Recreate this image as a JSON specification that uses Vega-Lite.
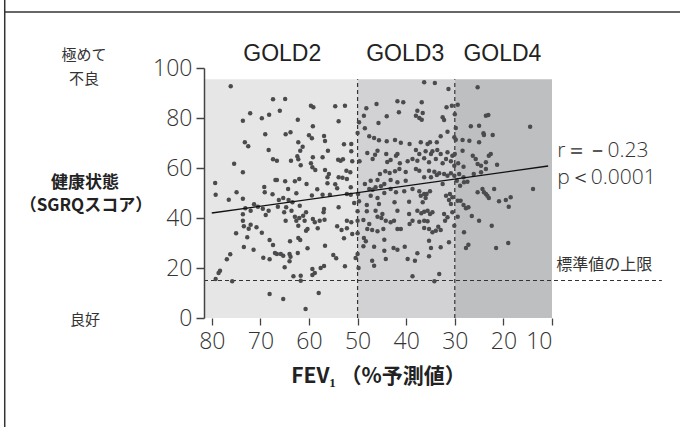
{
  "$schema": "https://vega.github.io/schema/vega-lite/v6.json",
  "width": 348,
  "height": 250,
  "autosize": {"type": "none"},
  "padding": {"left": 204, "top": 68, "right": 128, "bottom": 109},
  "background": "white",
  "config": {"view": {"stroke": null}},
  "datasets": {
    "regions": [
      {"gold": "GOLD2", "from": 81.6, "to": 50},
      {"gold": "GOLD3", "from": 50, "to": 30},
      {"gold": "GOLD4", "from": 30, "to": 10}
    ],
    "goldLabels": [
      {"gold": "GOLD2", "fev": 65.5},
      {"gold": "GOLD3", "fev": 40.2},
      {"gold": "GOLD4", "fev": 20.2}
    ],
    "cutoffs": [{"fev": 50}, {"fev": 30}],
    "normalLine": [{"fev": 81.6, "fev2": -12.6, "sgrq": 15}],
    "frameV": [{"fev": 122.6, "sgrq": 127.2, "sgrq2": -43.6}],
    "frameH": [{"fev": 122.6, "fev2": -16.5, "sgrq": 122.4}],
    "fit": [{"fev": 80, "sgrq": 42}, {"fev": 10.8, "sgrq": 60.8}],
    "leftNormal": [
      {"label": "極めて", "fev": 106.3, "sgrq": 105.2},
      {"label": "不良", "fev": 106.3, "sgrq": 95.6},
      {"label": "良好", "fev": 106.1, "sgrq": -0.8}
    ],
    "leftBold": [
      {"label": "健康状態", "fev": 106.1, "sgrq": 54},
      {"label": "（SGRQスコア）", "fev": 105.9, "sgrq": 44.8}
    ],
    "stats": [
      {"label": "r＝－0.23", "fev": 8.9, "sgrq": 66.8},
      {"label": "p＜0.0001", "fev": 8.9, "sgrq": 56}
    ],
    "normal": [{"label": "標準値の上限", "fev": 9.1, "sgrq": 21.2}],
    "points": [
      {"fev":76.1,"sgrq":92.7},{"fev":67.4,"sgrq":87.5},{"fev":72.1,"sgrq":81.9},{"fev":73.6,"sgrq":78.9},{"fev":69.7,"sgrq":79.9},{"fev":68.2,"sgrq":81.3},{"fev":69.0,"sgrq":73.5},{"fev":73.2,"sgrq":70.3},{"fev":72.5,"sgrq":68.7},{"fev":68.3,"sgrq":67.2},{"fev":67.4,"sgrq":63.5},{"fev":75.4,"sgrq":61.7},{"fev":73.6,"sgrq":58.3},{"fev":66.9,"sgrq":55.2},{"fev":79.3,"sgrq":54.0},{"fev":69.2,"sgrq":52.4},{"fev":69.1,"sgrq":50.3},{"fev":74.9,"sgrq":50.3},{"fev":79.2,"sgrq":49.3},{"fev":67.5,"sgrq":49.5},{"fev":76.5,"sgrq":47.3},{"fev":73.6,"sgrq":47.7},{"fev":71.3,"sgrq":45.5},{"fev":70.5,"sgrq":44.5},{"fev":73.1,"sgrq":43.9},{"fev":72.0,"sgrq":42.9},{"fev":69.5,"sgrq":43.7},{"fev":68.3,"sgrq":42.9},{"fev":73.6,"sgrq":41.5},{"fev":68.9,"sgrq":41.2},{"fev":73.6,"sgrq":38.9},{"fev":72.0,"sgrq":37.3},{"fev":73.4,"sgrq":36.7},{"fev":72.4,"sgrq":35.7},{"fev":70.8,"sgrq":36.3},{"fev":69.7,"sgrq":34.1},{"fev":75.0,"sgrq":33.9},{"fev":72.7,"sgrq":32.3},{"fev":68.1,"sgrq":31.2},{"fev":67.4,"sgrq":29.2},{"fev":73.4,"sgrq":28.4},{"fev":71.4,"sgrq":27.3},{"fev":67.0,"sgrq":26.0},{"fev":76.2,"sgrq":25.5},{"fev":76.9,"sgrq":23.5},{"fev":69.4,"sgrq":24.1},{"fev":68.1,"sgrq":23.5},{"fev":78.3,"sgrq":18.9},{"fev":78.6,"sgrq":18.0},{"fev":79.2,"sgrq":15.6},{"fev":75.8,"sgrq":14.7},{"fev":68.1,"sgrq":9.6},
      {"fev":64.9,"sgrq":87.6},{"fev":66.0,"sgrq":82.9},{"fev":59.6,"sgrq":84.9},{"fev":59.1,"sgrq":84.3},{"fev":54.6,"sgrq":84.7},{"fev":52.6,"sgrq":84.9},{"fev":62.3,"sgrq":79.3},{"fev":53.9,"sgrq":78.7},{"fev":59.2,"sgrq":76.7},{"fev":64.8,"sgrq":73.5},{"fev":63.8,"sgrq":74.3},{"fev":60.0,"sgrq":73.1},{"fev":59.4,"sgrq":71.9},{"fev":56.9,"sgrq":72.8},{"fev":56.7,"sgrq":70.8},{"fev":62.2,"sgrq":70.3},{"fev":52.8,"sgrq":69.5},{"fev":61.3,"sgrq":68.5},{"fev":61.8,"sgrq":66.9},{"fev":56.1,"sgrq":66.9},{"fev":66.6,"sgrq":62.9},{"fev":63.7,"sgrq":62.9},{"fev":62.4,"sgrq":64.7},{"fev":62.2,"sgrq":63.5},{"fev":59.2,"sgrq":64.3},{"fev":57.2,"sgrq":64.3},{"fev":54.0,"sgrq":63.3},{"fev":53.5,"sgrq":62.9},{"fev":53.0,"sgrq":63.5},{"fev":59.6,"sgrq":61.9},{"fev":59.3,"sgrq":60.3},{"fev":61.7,"sgrq":61.1},{"fev":58.7,"sgrq":59.2},{"fev":56.7,"sgrq":59.2},{"fev":55.9,"sgrq":57.6},{"fev":56.2,"sgrq":56.3},{"fev":53.9,"sgrq":56.3},{"fev":53.1,"sgrq":56.1},{"fev":66.6,"sgrq":55.2},{"fev":64.9,"sgrq":54.7},{"fev":62.9,"sgrq":54.7},{"fev":62.0,"sgrq":55.6},{"fev":60.5,"sgrq":53.6},{"fev":56.2,"sgrq":53.9},{"fev":54.6,"sgrq":53.5},{"fev":64.3,"sgrq":51.6},{"fev":58.3,"sgrq":51.5},{"fev":54.2,"sgrq":51.9},{"fev":62.6,"sgrq":49.9},{"fev":59.4,"sgrq":49.0},{"fev":57.2,"sgrq":49.3},{"fev":55.7,"sgrq":49.3},{"fev":66.2,"sgrq":47.2},{"fev":65.3,"sgrq":48.0},{"fev":64.2,"sgrq":47.2},{"fev":63.4,"sgrq":46.3},{"fev":61.9,"sgrq":44.9},{"fev":66.4,"sgrq":44.5},{"fev":64.7,"sgrq":44.3},{"fev":63.6,"sgrq":42.9},{"fev":65.1,"sgrq":42.3},{"fev":62.9,"sgrq":40.5},{"fev":62.0,"sgrq":40.0},{"fev":61.2,"sgrq":40.9},{"fev":60.6,"sgrq":42.3},{"fev":56.9,"sgrq":43.6},{"fev":57.0,"sgrq":42.3},{"fev":53.9,"sgrq":44.3},{"fev":64.8,"sgrq":38.9},{"fev":62.6,"sgrq":38.9},{"fev":62.2,"sgrq":36.9},{"fev":60.9,"sgrq":38.9},{"fev":59.2,"sgrq":39.6},{"fev":58.8,"sgrq":38.3},{"fev":58.2,"sgrq":35.9},{"fev":57.8,"sgrq":38.9},{"fev":56.8,"sgrq":39.3},{"fev":60.3,"sgrq":35.6},{"fev":60.6,"sgrq":34.9},{"fev":54.2,"sgrq":36.7},{"fev":53.3,"sgrq":35.2},{"fev":52.8,"sgrq":31.9},{"fev":62.2,"sgrq":32.0},{"fev":61.8,"sgrq":31.2},{"fev":63.9,"sgrq":30.7},{"fev":60.3,"sgrq":27.9},{"fev":56.7,"sgrq":28.9},{"fev":66.6,"sgrq":25.6},{"fev":65.8,"sgrq":25.6},{"fev":65.3,"sgrq":24.9},{"fev":64.0,"sgrq":25.6},{"fev":63.8,"sgrq":24.5},{"fev":62.3,"sgrq":26.0},{"fev":64.0,"sgrq":22.7},{"fev":65.0,"sgrq":20.3},{"fev":55.0,"sgrq":25.2},{"fev":54.4,"sgrq":23.9},{"fev":52.6,"sgrq":20.7},{"fev":57.6,"sgrq":20.0},{"fev":56.9,"sgrq":20.8},{"fev":59.3,"sgrq":19.6},{"fev":59.3,"sgrq":17.2},{"fev":58.8,"sgrq":18.0},{"fev":63.2,"sgrq":16.7},{"fev":61.7,"sgrq":16.9},{"fev":61.7,"sgrq":14.9},{"fev":65.3,"sgrq":7.6},{"fev":58.0,"sgrq":10.0},{"fev":60.7,"sgrq":3.6},
      {"fev":46.1,"sgrq":85.6},{"fev":41.8,"sgrq":86.7},{"fev":40.6,"sgrq":86.3},{"fev":48.2,"sgrq":83.9},{"fev":41.5,"sgrq":82.3},{"fev":48.7,"sgrq":80.9},{"fev":44.0,"sgrq":80.7},{"fev":49.7,"sgrq":78.3},{"fev":45.7,"sgrq":78.0},{"fev":48.5,"sgrq":75.9},{"fev":47.6,"sgrq":72.7},{"fev":50.0,"sgrq":74.0},{"fev":46.6,"sgrq":72.0},{"fev":45.6,"sgrq":71.1},{"fev":44.0,"sgrq":70.7},{"fev":42.3,"sgrq":71.2},{"fev":41.1,"sgrq":70.1},{"fev":39.3,"sgrq":69.6},{"fev":51.3,"sgrq":69.6},{"fev":48.0,"sgrq":66.0},{"fev":46.4,"sgrq":65.3},{"fev":45.9,"sgrq":66.9},{"fev":44.1,"sgrq":65.6},{"fev":42.1,"sgrq":64.9},{"fev":41.8,"sgrq":65.6},{"fev":51.3,"sgrq":66.7},{"fev":49.6,"sgrq":62.7},{"fev":51.1,"sgrq":62.7},{"fev":46.9,"sgrq":63.6},{"fev":43.9,"sgrq":62.4},{"fev":43.2,"sgrq":63.2},{"fev":41.3,"sgrq":61.9},{"fev":38.7,"sgrq":63.6},{"fev":39.7,"sgrq":62.7},{"fev":52.3,"sgrq":58.9},{"fev":51.5,"sgrq":58.3},{"fev":44.3,"sgrq":58.7},{"fev":43.4,"sgrq":58.0},{"fev":42.3,"sgrq":58.7},{"fev":41.4,"sgrq":59.6},{"fev":40.1,"sgrq":58.4},{"fev":45.4,"sgrq":57.6},{"fev":45.9,"sgrq":55.2},{"fev":47.3,"sgrq":54.9},{"fev":48.5,"sgrq":53.6},{"fev":52.2,"sgrq":55.6},{"fev":43.2,"sgrq":55.2},{"fev":41.8,"sgrq":54.3},{"fev":40.1,"sgrq":54.9},{"fev":46.3,"sgrq":52.3},{"fev":45.2,"sgrq":52.7},{"fev":44.5,"sgrq":53.6},{"fev":51.4,"sgrq":52.3},{"fev":47.6,"sgrq":51.6},{"fev":46.9,"sgrq":51.3},{"fev":43.2,"sgrq":51.6},{"fev":42.1,"sgrq":50.3},{"fev":40.4,"sgrq":50.7},{"fev":38.7,"sgrq":51.6},{"fev":52.2,"sgrq":49.6},{"fev":51.4,"sgrq":49.3},{"fev":49.9,"sgrq":49.6},{"fev":47.3,"sgrq":48.9},{"fev":45.9,"sgrq":48.0},{"fev":44.5,"sgrq":50.0},{"fev":50.7,"sgrq":46.0},{"fev":49.7,"sgrq":46.7},{"fev":48.1,"sgrq":45.2},{"fev":45.6,"sgrq":45.6},{"fev":42.4,"sgrq":46.3},{"fev":39.4,"sgrq":46.5},{"fev":50.0,"sgrq":42.7},{"fev":48.1,"sgrq":42.7},{"fev":46.3,"sgrq":42.9},{"fev":44.9,"sgrq":41.6},{"fev":41.8,"sgrq":42.9},{"fev":52.2,"sgrq":38.9},{"fev":51.3,"sgrq":38.3},{"fev":50.0,"sgrq":38.9},{"fev":48.8,"sgrq":39.2},{"fev":47.6,"sgrq":37.6},{"fev":45.9,"sgrq":40.5},{"fev":45.1,"sgrq":40.0},{"fev":44.2,"sgrq":38.9},{"fev":43.2,"sgrq":38.3},{"fev":42.5,"sgrq":38.9},{"fev":41.8,"sgrq":35.6},{"fev":41.1,"sgrq":35.6},{"fev":39.4,"sgrq":41.6},{"fev":39.3,"sgrq":37.6},{"fev":38.7,"sgrq":38.9},{"fev":52.2,"sgrq":35.9},{"fev":51.1,"sgrq":33.6},{"fev":50.0,"sgrq":33.9},{"fev":48.0,"sgrq":35.6},{"fev":47.0,"sgrq":35.2},{"fev":45.9,"sgrq":34.7},{"fev":44.7,"sgrq":35.6},{"fev":48.7,"sgrq":32.0},{"fev":48.3,"sgrq":30.7},{"fev":48.8,"sgrq":28.7},{"fev":44.5,"sgrq":31.3},{"fev":46.6,"sgrq":28.5},{"fev":42.6,"sgrq":28.0},{"fev":41.8,"sgrq":27.3},{"fev":40.3,"sgrq":28.5},{"fev":44.5,"sgrq":26.9},{"fev":50.0,"sgrq":25.6},{"fev":50.4,"sgrq":24.0},{"fev":47.0,"sgrq":22.9},{"fev":46.6,"sgrq":20.9},{"fev":44.2,"sgrq":23.6},{"fev":39.7,"sgrq":23.6},{"fev":49.8,"sgrq":20.0},{"fev":38.7,"sgrq":16.7},
      {"fev":36.3,"sgrq":94.3},{"fev":34.1,"sgrq":94.0},{"fev":31.3,"sgrq":91.6},{"fev":25.3,"sgrq":92.3},{"fev":36.8,"sgrq":86.3},{"fev":31.7,"sgrq":84.3},{"fev":30.6,"sgrq":84.9},{"fev":29.4,"sgrq":85.3},{"fev":37.7,"sgrq":82.9},{"fev":36.6,"sgrq":82.0},{"fev":38.0,"sgrq":80.9},{"fev":37.3,"sgrq":80.0},{"fev":36.8,"sgrq":79.3},{"fev":32.5,"sgrq":80.3},{"fev":32.2,"sgrq":79.2},{"fev":23.6,"sgrq":80.9},{"fev":26.7,"sgrq":76.7},{"fev":25.0,"sgrq":76.9},{"fev":24.1,"sgrq":73.9},{"fev":31.5,"sgrq":74.5},{"fev":32.9,"sgrq":72.7},{"fev":37.0,"sgrq":70.3},{"fev":35.6,"sgrq":69.6},{"fev":35.1,"sgrq":70.3},{"fev":33.7,"sgrq":70.3},{"fev":29.8,"sgrq":71.3},{"fev":28.4,"sgrq":71.2},{"fev":27.0,"sgrq":70.9},{"fev":25.0,"sgrq":70.3},{"fev":38.0,"sgrq":67.2},{"fev":37.3,"sgrq":65.6},{"fev":36.0,"sgrq":66.7},{"fev":34.9,"sgrq":65.6},{"fev":34.6,"sgrq":66.7},{"fev":33.6,"sgrq":67.2},{"fev":32.9,"sgrq":65.6},{"fev":31.5,"sgrq":66.3},{"fev":30.5,"sgrq":64.9},{"fev":30.0,"sgrq":65.6},{"fev":28.4,"sgrq":66.9},{"fev":26.3,"sgrq":64.9},{"fev":25.7,"sgrq":63.6},{"fev":25.3,"sgrq":61.6},{"fev":24.6,"sgrq":60.9},{"fev":23.6,"sgrq":62.3},{"fev":37.7,"sgrq":62.9},{"fev":36.3,"sgrq":63.9},{"fev":35.3,"sgrq":62.3},{"fev":33.9,"sgrq":63.6},{"fev":32.5,"sgrq":61.9},{"fev":31.8,"sgrq":63.6},{"fev":30.8,"sgrq":62.7},{"fev":30.1,"sgrq":60.9},{"fev":29.3,"sgrq":61.9},{"fev":28.2,"sgrq":60.5},{"fev":38.0,"sgrq":59.6},{"fev":37.3,"sgrq":58.9},{"fev":35.3,"sgrq":58.9},{"fev":34.2,"sgrq":58.5},{"fev":33.7,"sgrq":57.2},{"fev":33.2,"sgrq":57.9},{"fev":32.2,"sgrq":57.6},{"fev":31.5,"sgrq":56.9},{"fev":30.8,"sgrq":57.9},{"fev":30.1,"sgrq":56.9},{"fev":29.1,"sgrq":57.6},{"fev":28.2,"sgrq":56.3},{"fev":26.1,"sgrq":57.6},{"fev":24.6,"sgrq":58.3},{"fev":36.3,"sgrq":56.3},{"fev":34.9,"sgrq":56.3},{"fev":32.5,"sgrq":53.6},{"fev":29.6,"sgrq":54.9},{"fev":28.9,"sgrq":52.9},{"fev":28.1,"sgrq":54.3},{"fev":27.4,"sgrq":54.5},{"fev":24.3,"sgrq":51.6},{"fev":37.3,"sgrq":50.7},{"fev":36.3,"sgrq":49.6},{"fev":35.8,"sgrq":49.6},{"fev":35.1,"sgrq":50.7},{"fev":37.0,"sgrq":48.9},{"fev":36.0,"sgrq":48.0},{"fev":36.6,"sgrq":46.3},{"fev":31.8,"sgrq":48.9},{"fev":31.0,"sgrq":49.6},{"fev":30.5,"sgrq":48.3},{"fev":31.2,"sgrq":47.2},{"fev":30.8,"sgrq":45.6},{"fev":29.4,"sgrq":46.9},{"fev":28.8,"sgrq":46.9},{"fev":28.2,"sgrq":45.2},{"fev":27.7,"sgrq":43.9},{"fev":27.2,"sgrq":44.3},{"fev":25.3,"sgrq":50.3},{"fev":23.6,"sgrq":49.6},{"fev":37.7,"sgrq":42.9},{"fev":36.9,"sgrq":41.9},{"fev":36.3,"sgrq":42.5},{"fev":35.6,"sgrq":42.9},{"fev":35.1,"sgrq":41.6},{"fev":34.6,"sgrq":42.3},{"fev":32.2,"sgrq":41.6},{"fev":31.5,"sgrq":40.3},{"fev":32.0,"sgrq":38.9},{"fev":30.5,"sgrq":42.3},{"fev":29.4,"sgrq":40.5},{"fev":30.1,"sgrq":36.9},{"fev":25.0,"sgrq":38.9},{"fev":37.3,"sgrq":38.5},{"fev":36.3,"sgrq":38.9},{"fev":35.6,"sgrq":38.7},{"fev":36.3,"sgrq":36.0},{"fev":35.3,"sgrq":35.6},{"fev":34.6,"sgrq":34.3},{"fev":33.9,"sgrq":34.9},{"fev":32.9,"sgrq":35.2},{"fev":33.4,"sgrq":36.5},{"fev":28.1,"sgrq":34.3},{"fev":35.3,"sgrq":30.9},{"fev":31.2,"sgrq":30.3},{"fev":32.9,"sgrq":28.3},{"fev":34.9,"sgrq":28.0},{"fev":27.2,"sgrq":29.3},{"fev":27.7,"sgrq":28.0},{"fev":37.7,"sgrq":25.9},{"fev":35.3,"sgrq":24.7},{"fev":38.2,"sgrq":22.9},{"fev":33.2,"sgrq":17.6},{"fev":34.2,"sgrq":14.7},{"fev":30.1,"sgrq":72.3},{"fev":29.8,"sgrq":76.0},{"fev":30.0,"sgrq":81.5},{"fev":26.5,"sgrq":40.8},
      {"fev":23.1,"sgrq":81.2},{"fev":24.0,"sgrq":73.2},{"fev":22.2,"sgrq":73.2},{"fev":14.5,"sgrq":76.5},{"fev":23.0,"sgrq":64.9},{"fev":22.6,"sgrq":65.6},{"fev":21.3,"sgrq":61.3},{"fev":23.6,"sgrq":59.6},{"fev":24.0,"sgrq":50.3},{"fev":23.3,"sgrq":48.9},{"fev":23.0,"sgrq":48.0},{"fev":21.9,"sgrq":51.6},{"fev":20.9,"sgrq":46.7},{"fev":19.5,"sgrq":47.2},{"fev":18.5,"sgrq":48.3},{"fev":18.9,"sgrq":44.5},{"fev":13.9,"sgrq":51.6},{"fev":22.4,"sgrq":36.9},{"fev":21.5,"sgrq":28.0},{"fev":19.0,"sgrq":30.0}
    ]
  },
  "layer": [
    {
      "data": {"name": "regions"},
      "mark": {"type": "rect"},
      "encoding": {
        "x": {"field": "from", "type": "quantitative",
          "scale": {"domain": [10, 81.6], "reverse": true, "nice": false, "zero": false},
          "axis": {"values": [80, 70, 60, 50, 40, 30, 20, 10], "domain": false, "grid": false,
            "tickSize": 7, "tickColor": "#444", "tickWidth": 1.3,
            "labelFont": "Open Sans", "labelFontWeight": 300, "labelFontSize": 23, "labelColor": "#333", "labelPadding": 5,
            "title": "FEV₁ （%予測値）", "titleFont": "Noto Sans CJK JP", "titleFontWeight": "bold", "titleFontSize": 21, "titleColor": "#222", "titlePadding": 12, "zindex": 2}},
        "x2": {"field": "to"},
        "y": {"datum": 0, "type": "quantitative",
          "scale": {"domain": [0, 100], "nice": false, "zero": false},
          "axis": {"values": [0, 20, 40, 60, 80, 100], "domain": true, "domainColor": "#444", "domainWidth": 1.5, "grid": false,
            "tickSize": 8, "tickColor": "#444", "tickWidth": 1.5,
            "labelFont": "Open Sans", "labelFontWeight": 300, "labelFontSize": 23, "labelColor": "#333", "labelPadding": 4,
            "title": null, "zindex": 2}},
        "y2": {"datum": 95.5},
        "color": {"field": "gold", "type": "nominal",
          "scale": {"domain": ["GOLD2", "GOLD3", "GOLD4"], "range": ["#e6e6e7", "#d2d2d4", "#bebfc1"]},
          "legend": null}
      }
    },
    {
      "data": {"name": "cutoffs"},
      "mark": {"type": "rule", "color": "#333", "strokeWidth": 1.2, "strokeDash": [4, 3]},
      "encoding": {
        "x": {"field": "fev", "type": "quantitative"},
        "y": {"datum": 0, "type": "quantitative"},
        "y2": {"datum": 95.5}
      }
    },
    {
      "data": {"name": "normalLine"},
      "mark": {"type": "rule", "color": "#333", "strokeWidth": 1.2, "strokeDash": [4, 3]},
      "encoding": {
        "x": {"field": "fev", "type": "quantitative"},
        "x2": {"field": "fev2"},
        "y": {"field": "sgrq", "type": "quantitative"}
      }
    },
    {
      "data": {"name": "points"},
      "mark": {"type": "circle", "size": 20, "opacity": 1, "color": "#4b4b4d"},
      "encoding": {
        "x": {"field": "fev", "type": "quantitative"},
        "y": {"field": "sgrq", "type": "quantitative"}
      }
    },
    {
      "data": {"name": "fit"},
      "mark": {"type": "line", "color": "#111", "strokeWidth": 1.3},
      "encoding": {
        "x": {"field": "fev", "type": "quantitative"},
        "y": {"field": "sgrq", "type": "quantitative"}
      }
    },
    {
      "data": {"name": "goldLabels"},
      "mark": {"type": "text", "font": "Liberation Sans", "fontSize": 23, "fontWeight": 400, "color": "#222", "baseline": "middle", "align": "center"},
      "encoding": {
        "x": {"field": "fev", "type": "quantitative"},
        "y": {"datum": 105.6, "type": "quantitative"},
        "text": {"field": "gold"}
      }
    },
    {
      "data": {"name": "leftNormal"},
      "mark": {"type": "text", "font": "Noto Sans CJK JP", "fontSize": 15, "color": "#333", "baseline": "middle", "align": "center"},
      "encoding": {
        "x": {"field": "fev", "type": "quantitative"},
        "y": {"field": "sgrq", "type": "quantitative"},
        "text": {"field": "label"}
      }
    },
    {
      "data": {"name": "leftBold"},
      "mark": {"type": "text", "font": "Noto Sans CJK JP", "fontSize": 17, "fontWeight": "bold", "color": "#222", "baseline": "middle", "align": "center"},
      "encoding": {
        "x": {"field": "fev", "type": "quantitative"},
        "y": {"field": "sgrq", "type": "quantitative"},
        "text": {"field": "label"}
      }
    },
    {
      "data": {"name": "stats"},
      "mark": {"type": "text", "font": "Open Sans", "fontSize": 21, "fontWeight": 300, "color": "#333", "baseline": "middle", "align": "left"},
      "encoding": {
        "x": {"field": "fev", "type": "quantitative"},
        "y": {"field": "sgrq", "type": "quantitative"},
        "text": {"field": "label"}
      }
    },
    {
      "data": {"name": "normal"},
      "mark": {"type": "text", "font": "Noto Sans CJK JP", "fontSize": 16, "color": "#333", "baseline": "middle", "align": "left"},
      "encoding": {
        "x": {"field": "fev", "type": "quantitative"},
        "y": {"field": "sgrq", "type": "quantitative"},
        "text": {"field": "label"}
      }
    },
    {
      "data": {"name": "frameV"},
      "mark": {"type": "rule", "color": "#333", "strokeWidth": 1.5},
      "encoding": {
        "x": {"field": "fev", "type": "quantitative"},
        "y": {"field": "sgrq", "type": "quantitative"},
        "y2": {"field": "sgrq2"}
      }
    },
    {
      "data": {"name": "frameH"},
      "mark": {"type": "rule", "color": "#333", "strokeWidth": 1.5},
      "encoding": {
        "x": {"field": "fev", "type": "quantitative"},
        "x2": {"field": "fev2"},
        "y": {"field": "sgrq", "type": "quantitative"}
      }
    }
  ]
}
